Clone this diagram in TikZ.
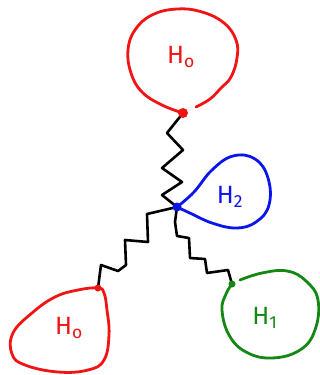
\documentclass[tikz,border=0pt]{standalone}
\usepackage{fontspec}
\setsansfont{Fira Sans}
\definecolor{hred}{RGB}{240,20,20}
\definecolor{hblue}{RGB}{10,20,235}
\definecolor{hgreen}{RGB}{20,135,20}
\begin{document}
\begin{tikzpicture}[x=1pt,y=-1pt,line cap=round,line join=round,
  blob/.style={line width=2.8pt},
  zig/.style={line width=2.6pt,black},
  dotmark/.style={circle,inner sep=0pt,minimum size=8pt},
  lab/.style={font=\fontsize{25}{28}\selectfont\sffamily}]
\useasboundingbox (0,0) rectangle (320,375);
% attachment points
\node[dotmark,fill=hblue] (c) at (177,207) {};
\node[dotmark,fill=hred] (t) at (183,113) {};
\node[dotmark,fill=hred,minimum size=6pt] (bl) at (98,288) {};
\node[dotmark,fill=hgreen,minimum size=6pt] (br) at (232,284) {};
% top red blob
\draw[blob,hred] plot[smooth,tension=0.7] coordinates {(183,113) (162,105) (142,92) (131,73) (128,50) (135,30) (152,15) (177,9) (202,12) (224,23) (236,40) (237,58) (231,77) (221,88) (210,99) (196,107)};
% blue loop
\draw[blob,hblue] plot[smooth,tension=0.7] coordinates {(177,207) (194,192) (212,170) (233,156) (255,159) (268,178) (269,205) (256,222) (236,228) (212,223) (192,214) (177,207)};
% bottom left red blob
\draw[blob,hred] plot[smooth cycle,tension=0.7] coordinates {(98,288) (78,290) (55,297) (32,313) (13,333) (12,354) (25,365) (58,372) (88,370) (104,360) (109,335) (107,310) (104,293)};
% green blob
\draw[blob,hgreen] plot[smooth,tension=0.7] coordinates {(240,280) (262,273) (287,271) (306,281) (318,300) (315,330) (300,350) (272,358) (246,352) (229,335) (222,310) (226,294) (232,284)};
% zigzags
\draw[zig] (c.center) -- (162,195) -- (182,182) -- (162,168) -- (183,150) -- (167,133) -- (t.center);
\draw[zig] (c.center) -- (147,214) -- (148,242) -- (125,240) -- (126,265) -- (118,271) -- (101,265) -- (bl.center);
\draw[zig] (c.center) -- (175,222) -- (177,236) -- (189,238) -- (190,258) -- (205,259) -- (207,273) -- (228,270) -- (br.center);
% redraw dots on top
\fill[hblue] (c) circle (4.5pt);
\fill[hred] (t) circle (5pt);
\fill[hred] (bl) circle (3.5pt);
\fill[hgreen] (br) circle (3.5pt);
% labels
\node[lab,text=hred] (l1) at (181,57) {H\textsubscript{o}};
\node[lab,text=hblue] (l2) at (230,197) {H\textsubscript{2}};
\node[lab,text=hred] (l3) at (69,328) {H\textsubscript{o}};
\node[lab,text=hgreen] (l4) at (265,318) {H\textsubscript{1}};
\end{tikzpicture}
\end{document}
